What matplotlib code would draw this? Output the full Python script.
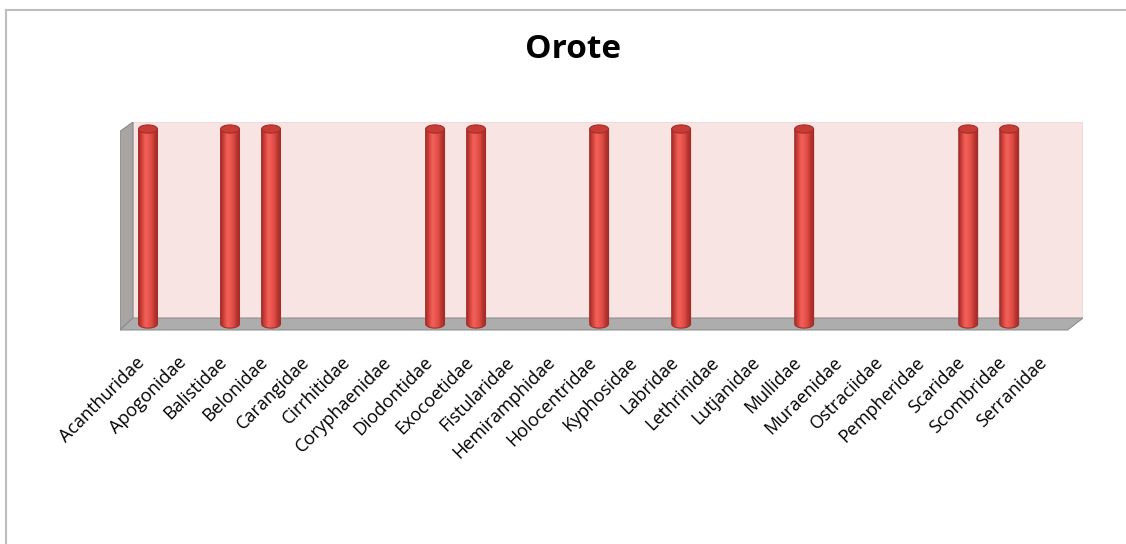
import numpy as np
import matplotlib
matplotlib.use('Agg')
import matplotlib.pyplot as plt
import matplotlib.transforms as mtransforms
from matplotlib.colors import LinearSegmentedColormap
from matplotlib.patches import Ellipse, PathPatch, Polygon, Rectangle
from matplotlib.path import Path
from matplotlib.lines import Line2D

plt.rcParams.update({
    'font.family': ['Open Sans', 'DejaVu Sans'],
    'font.size': 13,
    'figure.facecolor': 'white',
    'savefig.facecolor': 'white',
    'text.color': '#000000',
})

# 数据：各科是否出现（1 = 出现）
families = ['Acanthuridae', 'Apogonidae', 'Balistidae', 'Belonidae', 'Carangidae',
            'Cirrhitidae', 'Coryphaenidae', 'Diodontidae', 'Exocoetidae', 'Fistularidae',
            'Hemiramphidae', 'Holocentridae', 'Kyphosidae', 'Labridae', 'Lethrinidae',
            'Lutjanidae', 'Mullidae', 'Muraenidae', 'Ostraciidae', 'Pempheridae',
            'Scaridae', 'Scombridae', 'Serranidae']
presence = [1, 0, 1, 1, 0, 0, 0, 1, 1, 0, 0, 1, 0, 1, 0, 0, 1, 0, 0, 0, 1, 1, 0]
title = 'Orote'

W, H = 1126, 544
DPI = 100

bar_cmap = LinearSegmentedColormap.from_list(
    'cyl', ['#A92E2A', '#D8443E', '#F0625A', '#EC5850', '#DC4A44', '#B9352F', '#9E2A26'])


def px_box(left, right, top, bottom):
    """像素坐标 -> figure 比例"""
    return [left / W, 1 - bottom / H, (right - left) / W, (bottom - top) / H]


def draw_cylinder(ax, x, h, w, eh):
    """画一个圆柱：渐变柱体 + 顶部椭圆"""
    t = np.linspace(np.pi, 2 * np.pi, 30)
    bottom = np.column_stack([x + w / 2 * np.cos(t), eh / 2 * np.sin(t)])
    verts = np.vstack([bottom, [[x + w / 2, h], [x - w / 2, h], bottom[0]]])
    path = Path(verts)
    body = PathPatch(path, facecolor='none', edgecolor='#A22E2A', lw=0.8, zorder=4)
    ax.add_patch(body)
    grad = np.linspace(0, 1, 64).reshape(1, -1)
    im = ax.imshow(grad, cmap=bar_cmap, aspect='auto', zorder=3,
                   extent=[x - w / 2, x + w / 2, -eh, h], interpolation='bicubic')
    im.set_clip_path(body)
    top = Ellipse((x, h), w, eh, facecolor='#C93C36', edgecolor='#A22E2A', lw=0.8, zorder=5)
    ax.add_patch(top)


def main():
    fig = plt.figure(figsize=(W / DPI, H / DPI), dpi=DPI)

    # 图表外框（只看到左边和上边）
    fig.add_artist(Line2D([6 / W, 6 / W], [0, 1 - 10 / H], color='#BDBDBD', lw=1.5))
    fig.add_artist(Line2D([6 / W, 1], [1 - 10 / H, 1 - 10 / H], color='#BDBDBD', lw=1.5))

    fig.text(573 / W, 1 - 50 / H, title, ha='center', va='center',
             fontsize=24, fontweight='bold')

    ax = fig.add_axes(px_box(120, 1083, 122, 331))
    ax.set_facecolor('none')
    for s in ax.spines.values():
        s.set_visible(False)

    n = len(families)
    x = np.arange(n)
    ax.set_xlim(-0.683, n - 0.2)
    ax.set_ylim(-0.036, 1.036)

    # 3D 背景墙、侧墙、地板（坐标轴比例）
    wall = Rectangle((0.0135, 0.062), 0.9855, 0.938, transform=ax.transAxes,
                     facecolor='#F9E4E4', edgecolor='#EBD6D6', lw=0.6, zorder=0)
    ax.add_patch(wall)
    side = Polygon([(0, 0.005), (0.0135, 0.062), (0.0135, 1.0), (0, 0.955)],
                   closed=True, transform=ax.transAxes, facecolor='#A8A4A4',
                   edgecolor='#8C8888', lw=0.8, zorder=1)
    ax.add_patch(side)
    floor = Polygon([(0, 0.005), (0.984, 0.005), (1.0, 0.062), (0.0135, 0.062)],
                    closed=True, transform=ax.transAxes, facecolor='#ADADAD',
                    edgecolor='#8E8E8E', lw=0.8, zorder=1)
    ax.add_patch(floor)

    bar_w = 0.46
    ell_h = 0.042
    for xi, v in zip(x, presence):
        if v > 0:
            draw_cylinder(ax, xi, v, bar_w, ell_h)

    ax.set_yticks([])
    ax.set_xticks(x)
    ax.set_xticklabels(families, rotation=45, ha='right', va='top',
                       rotation_mode='anchor', fontsize=13)
    ax.tick_params(axis='x', length=0, pad=16)
    shift = mtransforms.ScaledTranslation(-12 / DPI, 0, fig.dpi_scale_trans)
    for lab in ax.get_xticklabels():
        lab.set_transform(lab.get_transform() + shift)

    fig.savefig('out.png', dpi=DPI)
    plt.close(fig)


if __name__ == '__main__':
    main()
